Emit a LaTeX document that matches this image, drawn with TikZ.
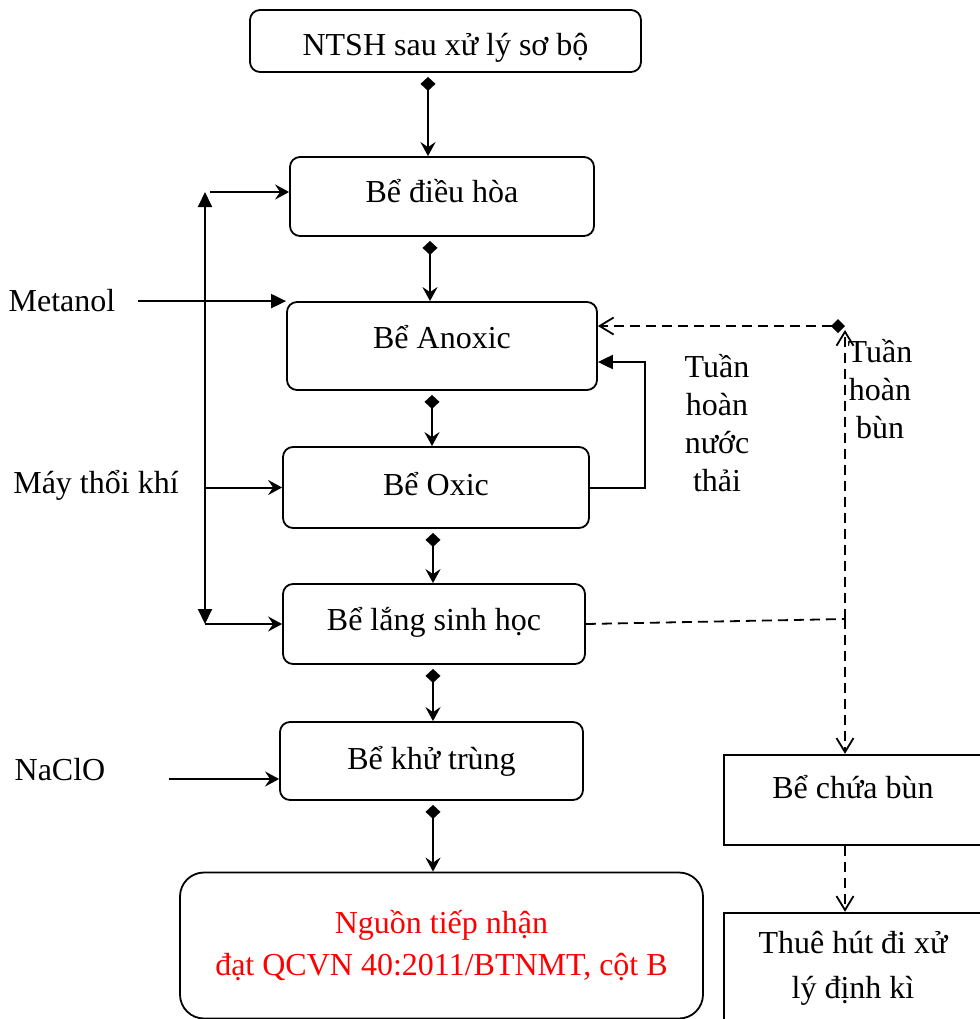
\documentclass[tikz,border=0pt]{standalone}
\usepackage{fontspec}
\setmainfont{Liberation Serif}
\usetikzlibrary{positioning,arrows.meta,calc}

\begin{document}
\begin{tikzpicture}[x=0.5pt,y=-0.5pt,
  hop/.style={rectangle,rounded corners=5pt,draw,line width=0.9pt,align=center,font=\fontsize{16pt}{19pt}\selectfont,inner sep=0pt},
  hopvuong/.style={rectangle,draw,line width=1.2pt,align=center,font=\fontsize{16pt}{19pt}\selectfont,inner sep=0pt},
  chu/.style={align=center,font=\fontsize{16pt}{19pt}\selectfont,inner sep=0pt},
  muiten/.style={-{Stealth[length=7pt,width=7.5pt,inset=2.5pt]},line width=1pt},
  muitenthoi/.style={{Diamond[length=7pt,width=7.5pt]}-{Stealth[length=7pt,width=7.5pt,inset=2.5pt]},line width=1pt,shorten <=2pt},
  tamgiac/.style={-{Triangle[length=7.5pt,width=7pt]},line width=1pt},
  netdut/.style={line width=0.9pt,dash pattern=on 5pt off 3pt},
  mo/.style={-{Straight Barb[length=7pt,width=8.5pt]}}]
\clip (0,0) rectangle (980,1019);
% cot chinh
\node[hop,minimum width=195.5pt,minimum height=31pt,text height=18pt] (ntsh) at (445.5,41) {NTSH sau xử lý sơ bộ};
\node[hop,minimum width=152pt,minimum height=39.5pt,text depth=6pt] (dieuhoa) at (442,196.5) {Bể điều hòa};
\node[hop,minimum width=155pt,minimum height=44pt,text depth=9pt] (anoxic) at (442,346) {Bể Anoxic};
\node[hop,minimum width=153pt,minimum height=40.5pt,text depth=4pt] (oxic) at (436,487.5) {Bể Oxic};
\node[hop,minimum width=151pt,minimum height=40pt,text depth=5pt] (lang) at (434,624) {Bể lắng sinh học};
\node[hop,minimum width=151.5pt,minimum height=39pt] (khutrung) at (431.5,761) {Bể khử trùng};
\node[hop,rounded corners=12pt,minimum width=261.5pt,minimum height=73pt,text=red,font=\fontsize{16pt}{21pt}\selectfont] (nguon) at (441.5,945.5) {Nguồn tiếp nhận\\đạt QCVN 40:2011/BTNMT, cột B};
% nhanh bun
\node[hopvuong,minimum width=129pt,minimum height=45pt,text depth=13pt] (chuabun) at (853,800) {Bể chứa bùn};
\node[hopvuong,minimum width=129pt,minimum height=55pt,font=\fontsize{16pt}{22.5pt}\selectfont] (thuehut) at (853,968) {Thuê hút đi xử\\lý định kì};
% nhan
\node[chu] (metanol) at (62,301) {Metanol};
\node[chu] (maythoi) at (96,485) {Máy thổi khí};
\node[chu] (naclo) at (60,770) {NaClO};
\node[chu] (thnuoc) at (717,423.5) {Tuần\\hoàn\\nước\\thải};
\node[chu] (thbun) at (880,389) {Tuần\\hoàn\\bùn};
\foreach \a/\b/\k in {ntsh/dieuhoa/428,dieuhoa/anoxic/430,anoxic/oxic/432,oxic/lang/433,lang/khutrung/433,khutrung/nguon/433}{
  \coordinate (k) at (\k,0);
  \draw[muitenthoi] (\a.south -| k) -- (\b.north -| k);
}
% khi va hoa chat
\coordinate (tren) at (205,192);
\coordinate (duoi) at (205,624);
\draw[{Triangle[length=7.5pt,width=7pt]}-{Triangle[length=7.5pt,width=7pt]},line width=1pt] (tren) -- (duoi);
\draw[muiten,shorten <=2.5pt] (tren) -- (tren -| dieuhoa.west);
\draw[muiten] (duoi) -- (duoi -| lang.west);
\draw[muiten] (tren |- oxic.west) -- (oxic.west);
\draw[tamgiac,shorten <=11pt] (metanol.east |- anoxic.north west) -- (anoxic.north west);
\coordinate (vao) at ([yshift=-9pt]khutrung.west);
\draw[muiten,shorten <=31.5pt] (naclo.east |- vao) -- (vao);
% tuan hoan nuoc thai
\coordinate (vong) at (645,362);
\draw[tamgiac] (oxic.east) -| (vong) -- (anoxic.east |- vong);
% tuan hoan bun
\coordinate (nga) at (845,619);
\coordinate (moc) at (845,326);
\draw[netdut] (lang.east) -- (nga);
\draw[netdut,mo] (nga) -- (nga |- chuabun.north);
\draw[netdut,mo,shorten >=2pt] (nga) -- (moc);
\draw[netdut,{Diamond[length=7pt,width=7pt]}-{Straight Barb[length=7pt,width=8.5pt]}] (moc) -- (anoxic.east |- moc);
\draw[netdut,mo] (nga |- chuabun.south) -- (nga |- thuehut.north);
\end{tikzpicture}
\end{document}
